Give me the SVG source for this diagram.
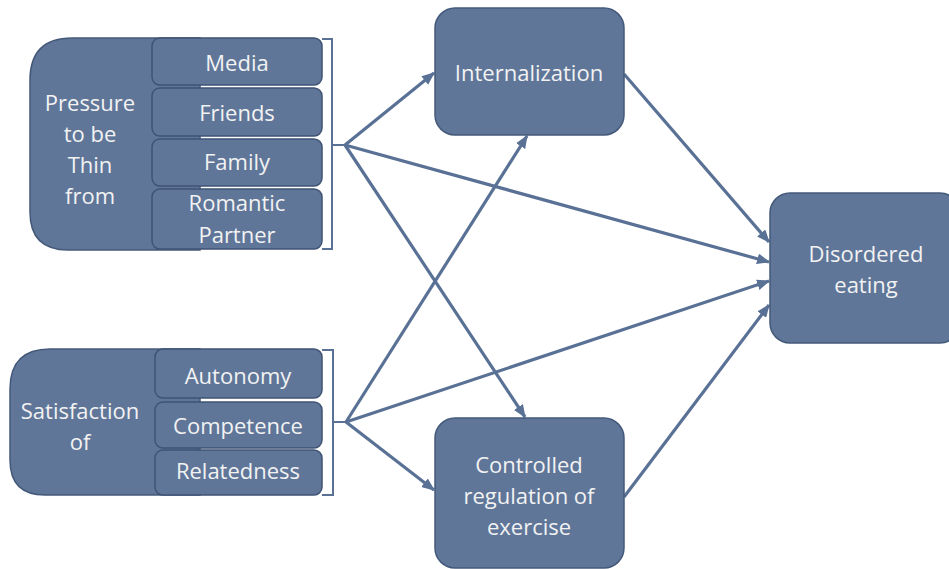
<svg xmlns="http://www.w3.org/2000/svg" width="949" height="569" viewBox="0 0 949 569">
<style>
.box{fill:#5f7699;stroke:#44597a;stroke-width:1.5}
.sub{fill:#5f7699;stroke:#3f5374;stroke-width:1.5}
.t{font-family:"Open Sans","Liberation Sans",sans-serif;font-size:22px;fill:#f2f2f2;text-anchor:middle}
.c{stroke:#5a7196;stroke-width:3.2;fill:none}
.br{stroke:#5a7196;stroke-width:2;fill:none}
</style>
<defs>
<marker id="ah" viewBox="0 0 12 10" refX="11" refY="5" markerWidth="13" markerHeight="11" markerUnits="userSpaceOnUse" orient="auto">
<path d="M0,0 L12,5 L0,10 z" fill="#5a7196"/>
</marker>
</defs>
<rect width="949" height="569" fill="#ffffff"/>

<g id="connectors">
<polyline class="br" points="322,39 332,39 332,249 322,249"/>
<line class="br" x1="332" y1="145" x2="345" y2="145"/>
<polyline class="br" points="322,350 333,350 333,495 322,495"/>
<line class="br" x1="333" y1="422" x2="346" y2="422"/>
<line class="c" x1="345" y1="145" x2="434" y2="73" marker-end="url(#ah)"/>
<line class="c" x1="345" y1="145" x2="769" y2="262" marker-end="url(#ah)"/>
<line class="c" x1="345" y1="145" x2="525" y2="417" marker-end="url(#ah)"/>
<line class="c" x1="346" y1="422" x2="527" y2="136" marker-end="url(#ah)"/>
<line class="c" x1="346" y1="422" x2="769" y2="281" marker-end="url(#ah)"/>
<line class="c" x1="346" y1="422" x2="434" y2="490" marker-end="url(#ah)"/>
<line class="c" x1="624" y1="74" x2="769" y2="242" marker-end="url(#ah)"/>
<line class="c" x1="624" y1="497" x2="769" y2="305" marker-end="url(#ah)"/>
</g>

<g id="pressure">
<path class="box" d="M72,38 H200 V250 H68 Q30,250 30,212 V80 Q30,38 72,38 Z"/>
<text class="t" x="90" y="111">Pressure</text>
<text class="t" x="90" y="142">to be</text>
<text class="t" x="90" y="173">Thin</text>
<text class="t" x="90" y="204">from</text>
</g>
<g id="media">
<rect class="sub" x="152" y="38" width="170" height="47" rx="8"/>
<text class="t" x="237" y="71">Media</text>
</g>
<g id="friends">
<rect class="sub" x="152" y="88" width="170" height="48" rx="8"/>
<text class="t" x="237" y="121">Friends</text>
</g>
<g id="family">
<rect class="sub" x="152" y="139" width="170" height="47" rx="8"/>
<text class="t" x="237" y="170">Family</text>
</g>
<g id="romantic">
<rect class="sub" x="152" y="189" width="170" height="60" rx="8"/>
<text class="t" x="237" y="211">Romantic</text>
<text class="t" x="237" y="243">Partner</text>
</g>

<g id="satisfaction">
<path class="box" d="M50,349 H200 V495 H45 Q10,495 10,460 V389 Q10,349 50,349 Z"/>
<text class="t" x="80" y="419">Satisfaction</text>
<text class="t" x="80" y="450">of</text>
</g>
<g id="autonomy">
<rect class="sub" x="155" y="349" width="167" height="49" rx="8"/>
<text class="t" x="238" y="384">Autonomy</text>
</g>
<g id="competence">
<rect class="sub" x="155" y="402" width="167" height="46" rx="8"/>
<text class="t" x="238" y="434">Competence</text>
</g>
<g id="relatedness">
<rect class="sub" x="155" y="450" width="167" height="45" rx="8"/>
<text class="t" x="238" y="479">Relatedness</text>
</g>

<g id="internalization">
<rect class="box" x="435" y="8" width="189" height="127" rx="20"/>
<text class="t" x="529" y="81">Internalization</text>
</g>
<g id="controlled">
<rect class="box" x="435" y="418" width="189" height="150" rx="20"/>
<text class="t" x="529" y="473">Controlled</text>
<text class="t" x="529" y="504">regulation of</text>
<text class="t" x="529" y="535">exercise</text>
</g>
<g id="disordered">
<rect class="box" x="770" y="193" width="190" height="150" rx="20"/>
<text class="t" x="866" y="262">Disordered</text>
<text class="t" x="866" y="293">eating</text>
</g>
</svg>
